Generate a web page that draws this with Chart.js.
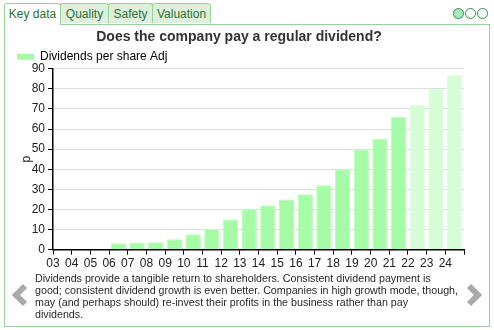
<!DOCTYPE html>
<html><head><meta charset="utf-8">
<script src="https://cdn.jsdelivr.net/npm/chart.js@4/dist/chart.umd.min.js"></script>
<style>
html,body{margin:0;padding:0;background:#fff;}
body{width:494px;height:330px;position:relative;overflow:hidden;font-family:"Liberation Sans",Arial,sans-serif;}
.tab{position:absolute;top:3px;height:20px;border:1px solid #98d498;border-bottom:none;background:#dcf0dc;color:#2f6f3a;font-size:12px;line-height:21px;text-align:center;border-radius:3px 3px 0 0;box-sizing:border-box;}
.tab.active{background:#fff;height:22px;z-index:2;}
#panel{position:absolute;left:4px;top:24px;width:486px;height:303px;border:1.5px solid #98d498;box-sizing:border-box;}
.dot{position:absolute;top:8px;width:11px;height:11px;border:1.5px solid #2a9a4a;border-radius:50%;box-sizing:border-box;}
#wrap{position:absolute;left:5px;top:25px;width:484px;height:248px;}
#desc{position:absolute;left:35px;top:272px;white-space:nowrap;font-size:10.7px;line-height:12px;color:#2a2a2a;}
svg.arr{position:absolute;}
</style></head>
<body>
<div id="panel"></div>
<div class="tab active" style="left:4px;width:57px;">Key data</div>
<div class="tab" style="left:60px;width:49px;">Quality</div>
<div class="tab" style="left:108px;width:45px;">Safety</div>
<div class="tab" style="left:152px;width:59px;">Valuation</div>
<div class="dot" style="left:453px;background:#a8e8bc;"></div>
<div class="dot" style="left:465px;"></div>
<div class="dot" style="left:477px;"></div>
<div id="wrap"><canvas id="c" width="484" height="248"></canvas></div>
<div id="desc">Dividends provide a tangible return to shareholders. Consistent dividend payment is<br>good; consistent dividend growth is even better. Companies in high growth mode, though,<br>may (and perhaps should) re-invest their profits in the business rather than pay<br>dividends.</div>
<svg class="arr" style="left:10px;top:283px" width="20" height="24"><polyline points="15,3 6,12 15,21" fill="none" stroke="#aaa" stroke-width="6" stroke-linejoin="miter"/></svg>
<svg class="arr" style="left:464px;top:283px" width="20" height="24"><polyline points="5,3 14,12 5,21" fill="none" stroke="#aaa" stroke-width="6" stroke-linejoin="miter"/></svg>
<script>
const years = ["03","04","05","06","07","08","09","10","11","12","13","14","15","16","17","18","19","20","21","22","23","24"];
const dividends = [null,null,null,3.2,3.5,3.7,5.1,7.7,10.2,15,20.2,22.1,25,27.6,32,40,50,55,66,72,80,87];
const isForecast = [false,false,false,false,false,false,false,false,false,false,false,false,false,false,false,false,false,false,false,true,true,true];
const yTicks = [0,10,20,30,40,50,60,70,80,90];

const solid = '#a6fca6', solidBorder = '#b9fdb9';
const fc = '#d6fdd6', fcBorder = '#defdde';
const FF = 'Liberation Sans, Arial, sans-serif';

const chart = new Chart(document.getElementById('c'), {
  type: 'bar',
  data: {
    labels: years,
    datasets: [{
      label: 'Dividends per share Adj',
      data: dividends,
      backgroundColor: isForecast.map(f => f ? fc : solid),
      borderColor: isForecast.map(f => f ? fcBorder : solidBorder),
      borderWidth: 1,
      barPercentage: 0.82,
      categoryPercentage: 1.0
    }]
  },
  options: {
    responsive: false,
    animation: false,
    layout: { padding: { left: 9, right: 25, top: 0, bottom: 0 } },
    plugins: {
      title: { display: true, text: 'Does the company pay a regular dividend?', color: '#333',
        font: { family: FF, size: 14, weight: 'bold' }, padding: { top: 4, bottom: 2 } },
      legend: { display: true, align: 'start',
        labels: { boxWidth: 17, boxHeight: 6, color: '#222', font: { family: FF, size: 12 }, padding: 3,
          generateLabels: (c) => [{ text: 'Dividends per share Adj', fillStyle: solid, strokeStyle: solid, lineWidth: 0, datasetIndex: 0 }] } },
      tooltip: { enabled: false }
    },
    scales: {
      x: {
        offset: true,
        grid: { display: true, offset: true, drawOnChartArea: false, tickLength: 5, color: '#000', tickColor: '#000' },
        border: { display: true, color: '#000', width: 1.5 },
        ticks: { color: '#222', font: { family: FF, size: 12 }, maxRotation: 0, autoSkip: false, labelOffset: -9.3, padding: 2 }
      },
      y: {
        min: 0, max: 90,
        afterBuildTicks: (s) => { s.ticks = yTicks.map(v => ({ value: v })); },
        afterFit: (s) => { s.width = 39; },
        title: { display: true, text: 'p', color: '#222', font: { family: FF, size: 12 }, padding: { top: 5, bottom: 0 } },
        grid: { color: '#dddddd', tickColor: '#000', tickLength: 5, lineWidth: 1 },
        border: { display: true, color: '#000', width: 1.5 },
        ticks: { color: '#222', font: { family: FF, size: 12 }, padding: 3 }
      }
    }
  }
});
// tighten the gap below the legend row
const baseFit = chart.legend.fit.bind(chart.legend);
chart.legend.fit = function () { baseFit(); this.height -= 4; };
chart.update();
</script>
</body></html>
